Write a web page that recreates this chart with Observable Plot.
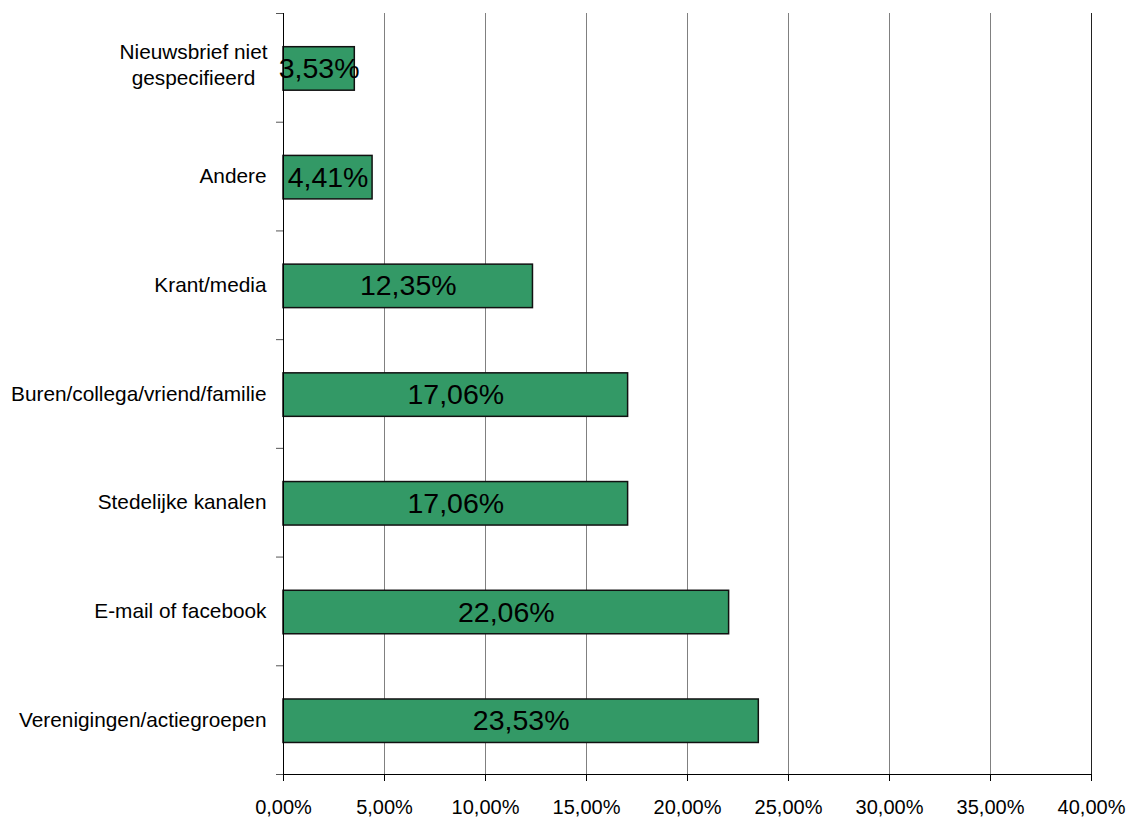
<!DOCTYPE html>
<html>
<head>
<meta charset="utf-8">
<script src="https://cdn.jsdelivr.net/npm/d3@7"></script>
<script src="https://cdn.jsdelivr.net/npm/@observablehq/plot@0.6"></script>
<style>
  html, body { margin: 0; padding: 0; background: #fff; }
  #chart { width: 1131px; height: 820px; }
</style>
</head>
<body>
<div id="chart"></div>
<script>
// Categories top to bottom
const categories = [
  "Nieuwsbrief niet\ngespecifieerd",
  "Andere",
  "Krant/media",
  "Buren/collega/vriend/familie",
  "Stedelijke kanalen",
  "E-mail of facebook",
  "Verenigingen/actiegroepen"
];
const values = [3.53, 4.41, 12.35, 17.06, 17.06, 22.06, 23.53];
const xTicks = [0, 5, 10, 15, 20, 25, 30, 35, 40];
const bandBoundaries = [0, 1, 2, 3, 4, 5, 6, 7];

const fmt = v => v.toFixed(2).replace(".", ",") + "%";
const data = categories.map((c, i) => ({i, name: c, value: values[i]}));
const single = data.filter(d => !d.name.includes("\n"));
const multi = data.filter(d => d.name.includes("\n"));

const chart = Plot.plot({
  width: 1131,
  height: 820,
  marginLeft: 283,
  marginRight: 40,
  marginTop: 13,
  marginBottom: 46,
  style: {fontFamily: "'Liberation Sans', Arial, sans-serif", fontSize: "20px", color: "#000", background: "#fff"},
  x: {domain: [0, 40]},
  y: {domain: [0, categories.length], reverse: true},
  marks: [
    Plot.ruleX(xTicks.slice(1, -1), {stroke: "#808080", strokeWidth: 1}),
    Plot.ruleX(xTicks.slice(-1), {stroke: "#222", strokeWidth: 1}),
    Plot.axisY({ticks: bandBoundaries, tickSize: 7, tickFormat: () => "", label: null, stroke: "#555"}),
    Plot.axisX({ticks: xTicks, tickSize: 7, tickPadding: 18, tickFormat: fmt, fontSize: 20, label: null, stroke: "#000"}),
    Plot.rectX(data, {
      x1: 0, x2: "value",
      y1: d => d.i + 0.31, y2: d => d.i + 0.71,
      fill: "#339966", stroke: "#111", strokeWidth: 1.5
    }),
    Plot.text(data, {x: d => d.value / 2, y: d => d.i + 0.51, text: d => fmt(d.value), fontSize: 28.5, fill: "#000"}),
    Plot.text(single, {x: 0, y: d => d.i + 0.5, text: "name", textAnchor: "end", dx: -17, fontSize: 20.8, fill: "#000"}),
    Plot.text(multi, {x: 0, y: d => d.i + 0.5, text: "name", textAnchor: "middle", dx: -90, dy: -4, lineHeight: 1.25, fontSize: 20.8, fill: "#000"}),
    Plot.ruleX([0], {stroke: "#000", strokeWidth: 1}),
    Plot.ruleY([categories.length], {stroke: "#000", strokeWidth: 1})
  ]
});
document.getElementById("chart").appendChild(chart);
</script>
</body>
</html>
